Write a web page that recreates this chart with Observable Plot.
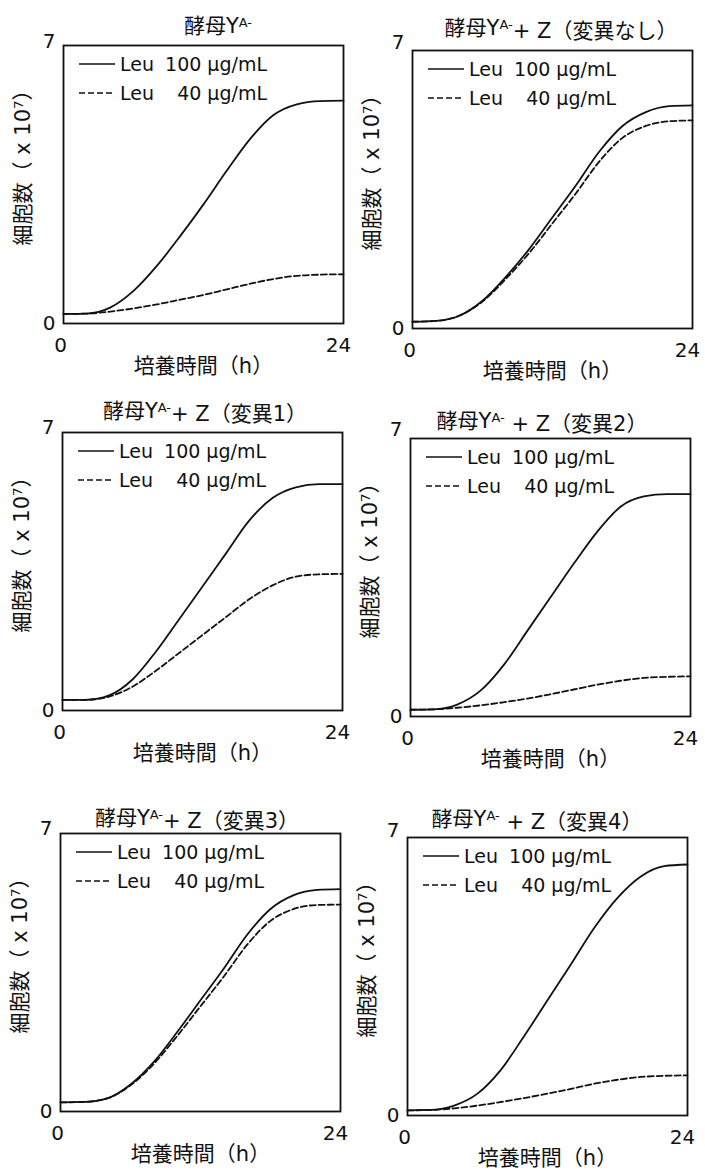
<!DOCTYPE html>
<html><head><meta charset="utf-8">
<script src="https://cdn.jsdelivr.net/npm/d3@7"></script>
<script src="https://cdn.jsdelivr.net/npm/@observablehq/plot@0.6"></script>
<style>
body{margin:0;background:#fff;width:705px;height:1171px;position:relative;overflow:hidden;}
.panel{position:absolute;}
.panel svg{overflow:visible;max-width:none;}
</style></head><body>
<script>
// ---- data ----
const hours = [0,2,4,6,8,10,12,14,16,18,20,22,24];
const p1_leu100 = [0.24,0.25,0.40,0.82,1.45,2.20,3.00,3.85,4.65,5.25,5.52,5.60,5.61];
const p1_leu40  = [0.24,0.25,0.30,0.38,0.48,0.60,0.72,0.86,1.00,1.12,1.20,1.23,1.24];
const p2_leu100 = [0.17,0.19,0.32,0.70,1.30,2.00,2.80,3.60,4.45,5.10,5.45,5.60,5.62];
const p2_leu40  = [0.17,0.19,0.32,0.68,1.25,1.90,2.65,3.40,4.20,4.80,5.10,5.22,5.24];
const p3_leu100 = [0.27,0.27,0.38,0.78,1.48,2.30,3.12,3.95,4.78,5.35,5.62,5.70,5.70];
const p3_leu40  = [0.27,0.27,0.35,0.60,1.00,1.45,1.90,2.35,2.80,3.15,3.37,3.43,3.44];
const p4_leu100 = [0.17,0.18,0.30,0.65,1.30,2.15,3.00,3.85,4.65,5.28,5.54,5.60,5.60];
const p4_leu40  = [0.17,0.18,0.22,0.28,0.36,0.45,0.56,0.68,0.80,0.90,0.97,1.00,1.01];
const p5_leu100 = [0.23,0.24,0.33,0.68,1.25,2.00,2.80,3.60,4.45,5.10,5.45,5.58,5.60];
const p5_leu40  = [0.23,0.24,0.33,0.66,1.20,1.90,2.65,3.40,4.20,4.80,5.10,5.20,5.21];
const p6_leu100 = [0.13,0.14,0.25,0.55,1.15,2.00,2.90,3.80,4.72,5.48,6.02,6.28,6.32];
const p6_leu40  = [0.13,0.14,0.18,0.25,0.34,0.44,0.55,0.67,0.80,0.90,0.97,1.00,1.01];

const titleBase = "酵母Y";
const titleSup = "A-";
const titleSuffix = ["", "+ Z（変異なし）", "+ Z（変異1）", " + Z（変異2）", "+ Z（変異3）", " + Z（変異4）"];
const xTicks = [0, 24];
const yTicks = [0, 7];
const xLabel = "培養時間（h）";
const yLabel = "細胞数（ x 10⁷）";
const legendLabels = [["Leu", "100 μg/mL"], ["Leu", "40 μg/mL"]];
const series100 = [p1_leu100,p2_leu100,p3_leu100,p4_leu100,p5_leu100,p6_leu100];
const series40  = [p1_leu40,p2_leu40,p3_leu40,p4_leu40,p5_leu40,p6_leu40];

// ---- layout (frame positions on the page) ----
const layout = [
  {fl:63,  ft:45,  tcx:15,  tcy:-20, sevenDy:-4},
  {fl:412, ft:50,  tcx:9,   tcy:-23, sevenDy:-8},
  {fl:62,  ft:432, tcx:3,   tcy:-22, sevenDy:-5},
  {fl:410, ft:438, tcx:-8,  tcy:-18, sevenDy:-9},
  {fl:60,  ft:833, tcx:-3,  tcy:-16, sevenDy:-5},
  {fl:407, ft:837, tcx:-10, tcy:-19, sevenDy:-7}
];
const FW = 280, FH = 278, ML = 60, MT = 45, MR = 12, MB = 62;
const FONT = "'DejaVu Sans','Noto Sans CJK JP',sans-serif";
const INK = "#111";
const fmt = d => String(d);

layout.forEach((L, i) => {
  const d100 = hours.map((t, k) => ({t, v: series100[i][k]}));
  const d40  = hours.map((t, k) => ({t, v: series40[i][k]}));
  const chart = Plot.plot({
    width: ML + FW + MR, height: MT + FH + MB,
    marginLeft: ML, marginTop: MT, marginRight: MR, marginBottom: MB,
    x: {domain: [0, 24]},
    y: {domain: [0, 7]},
    style: {fontFamily: FONT, fontSize: "20px", color: INK, background: "transparent", overflow: "visible"},
    marks: [
      Plot.axisX({ticks: [xTicks[0]], tickFormat: fmt, tickSize: 0, tickPadding: 14, label: null, dx: -3, fontSize: 20}),
      Plot.axisX({ticks: [xTicks[1]], tickFormat: fmt, tickSize: 0, tickPadding: 14, label: null, dx: -5, fontSize: 20}),
      Plot.axisY({ticks: [yTicks[0]], tickFormat: fmt, tickSize: 0, tickPadding: 8, label: null, fontSize: 20}),
      Plot.axisY({ticks: [yTicks[1]], tickFormat: fmt, tickSize: 0, tickPadding: 8, label: null, dy: L.sevenDy, fontSize: 20}),
      Plot.line(d100, {x: "t", y: "v", curve: "monotone-x", stroke: INK, strokeWidth: 1.8}),
      Plot.line(d40, {x: "t", y: "v", curve: "monotone-x", stroke: INK, strokeWidth: 1.8, strokeDasharray: "6,3"}),
      Plot.frame({stroke: INK, strokeWidth: 1.8}),
      Plot.text([xLabel], {frameAnchor: "bottom", textAnchor: "middle", lineAnchor: "middle", dy: 43, fontSize: 21, fill: INK}),
      Plot.text([yLabel], {frameAnchor: "left", textAnchor: "middle", lineAnchor: "middle", rotate: -90, dx: -40, dy: -22, fontSize: 21, fill: INK})
    ]
  });
  const div = document.createElement("div");
  div.className = "panel";
  div.style.left = (L.fl - ML) + "px";
  div.style.top = (L.ft - MT) + "px";
  div.appendChild(chart);
  document.body.appendChild(div);

  const svg = d3.select(chart);
  // title
  const tt = svg.append("text")
    .attr("x", ML + FW / 2 + L.tcx).attr("y", MT + L.tcy).attr("dy", "0.36em")
    .attr("text-anchor", "middle").attr("fill", INK)
    .style("font-family", FONT).style("font-size", "21px").style("white-space", "pre");
  tt.append("tspan").text(titleBase);
  tt.append("tspan").attr("dy", "-0.45em").style("font-size", "13px").text(titleSup);
  if (titleSuffix[i]) tt.append("tspan").attr("dy", "0.45em").text(titleSuffix[i]);

  // legend
  const lg = svg.append("g").attr("transform", `translate(${ML},${MT})`)
    .style("font-family", FONT).style("font-size", "19px").attr("fill", INK);
  const rows = [19, 48];
  rows.forEach((ry, r) => {
    lg.append("line").attr("x1", 16).attr("x2", 52).attr("y1", ry).attr("y2", ry)
      .attr("stroke", INK).attr("stroke-width", 1.6)
      .attr("stroke-dasharray", r === 0 ? null : "6,3");
    lg.append("text").attr("x", 57).attr("y", ry).attr("dy", "0.35em")
      .attr("text-anchor", "start").text(legendLabels[r][0]);
    lg.append("text").attr("x", 204).attr("y", ry).attr("dy", "0.35em")
      .attr("text-anchor", "end").text(legendLabels[r][1]);
  });
});
</script>
</body></html>
